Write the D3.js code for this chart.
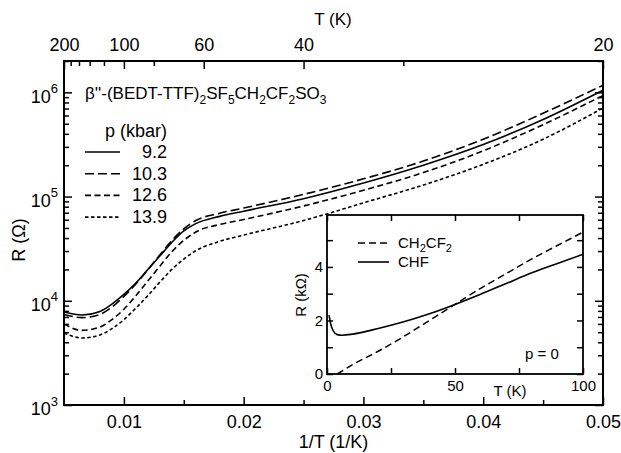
<!DOCTYPE html>
<html>
<head>
<meta charset="utf-8">
<script src="https://cdn.jsdelivr.net/npm/d3@7"></script>
<style>
body { margin: 0; background: #fff; }
text { font-family: "Liberation Sans", Arial, sans-serif; fill: #000; }
</style>
</head>
<body>
<div id="chart"></div>
<script>
var width = 621;
var height = 453;
var margin = {top: 61, left: 64, right: 18, bottom: 48};

// main panel: R vs 1/T
var invT = [0.005, 0.0065, 0.008, 0.009, 0.010, 0.011, 0.012, 0.013, 0.014, 0.015,
            0.016, 0.018, 0.020, 0.025, 0.030, 0.035, 0.040, 0.045, 0.050];
var r92  = [7800, 7300, 7900, 9300, 11500, 14800, 20000, 26900, 36300, 46800,
            55000, 64600, 72400, 95500, 135000, 200000, 316000, 550000, 1050000];
var r103 = [7400, 6900, 7400, 8700, 11000, 14500, 19800, 27500, 37800, 49000,
            58900, 69200, 77600, 105000, 148000, 219000, 355000, 631000, 1170000];
var r126 = [6000, 5200, 5600, 6600, 8300, 11200, 15500, 21500, 29500, 38000,
            45700, 54000, 60300, 81300, 115000, 170000, 275000, 490000, 933000];
var r139 = [4900, 4400, 4700, 5400, 6600, 8500, 11200, 15100, 20000, 25100,
            30200, 37200, 42700, 58900, 87100, 129000, 204000, 355000, 708000];
var pressures = ["9.2", "10.3", "12.6", "13.9"];

var xTicks = [0.01, 0.02, 0.03, 0.04, 0.05];
var xMinor = [0.015, 0.025, 0.035, 0.045];
var topLabels = [200, 100, 60, 40, 20];
var topMinor = [180, 160, 140, 120, 80, 30];
var yTicks = [1e3, 1e4, 1e5, 1e6];

// inset: R (kOhm) vs T
var tChf = [0.8, 1.5, 2.5, 4, 6, 10, 20, 30, 40, 50, 60, 70, 80, 90, 100];
var rChf = [2.2, 1.85, 1.6, 1.47, 1.45, 1.49, 1.7, 1.95, 2.25, 2.6, 2.98, 3.38, 3.78, 4.13, 4.47];
var tCh2 = [4, 10, 20, 30, 40, 50, 60, 70, 80, 90, 100];
var rCh2 = [0, 0.35, 0.85, 1.4, 2.0, 2.6, 3.2, 3.75, 4.3, 4.8, 5.3];
var insetXTicks = [0, 50, 100];
var insetXMinor = [25, 75];
var insetYTicks = [0, 2, 4];
var insetYMinor = [1, 3, 5];

var svg = d3.select("#chart").append("svg")
  .attr("width", width)
  .attr("height", height);

var xScale = d3.scaleLinear()
  .domain([0.005, 0.05])
  .range([margin.left, width - margin.right]);
var yScale = d3.scaleLog()
  .domain([1e3, 2e6])
  .range([height - margin.bottom, margin.top]);

var x0 = margin.left, x1 = width - margin.right;
var y0 = height - margin.bottom, y1 = margin.top;

function inward(sel) {
  sel.select(".domain").remove();
  sel.selectAll("line").attr("stroke", "#000").attr("stroke-width", 1.5);
  sel.selectAll("text").attr("fill", "#000").style("font-family", null);
}

// bottom axis
svg.append("g")
  .attr("transform", `translate(0,${y0})`)
  .call(d3.axisBottom(xScale).tickValues(xTicks).tickFormat(d3.format(".2f"))
    .tickSize(-8).tickPadding(10))
  .call(inward)
  .selectAll("text").attr("font-size", 18);
svg.append("g")
  .attr("transform", `translate(0,${y0})`)
  .call(d3.axisBottom(xScale).tickValues(xMinor).tickFormat("").tickSize(-5))
  .call(inward);

// top axis in T
svg.append("g")
  .attr("transform", `translate(0,${y1})`)
  .call(d3.axisTop(xScale).tickValues(topLabels.map(function(t){ return 1 / t; }))
    .tickFormat(function(d){ return Math.round(1 / d); })
    .tickSize(-8).tickPadding(10))
  .call(inward)
  .selectAll("text").attr("font-size", 18);
svg.append("g")
  .attr("transform", `translate(0,${y1})`)
  .call(d3.axisTop(xScale).tickValues(topMinor.map(function(t){ return 1 / t; }))
    .tickFormat("").tickSize(-5))
  .call(inward);

// log minor ticks
var yMinor = [];
for (var e = 3; e <= 6; e++) {
  for (var m = 2; m <= 9; m++) {
    if (m * Math.pow(10, e) <= 2e6) yMinor.push(m * Math.pow(10, e));
  }
}

var yLeft = svg.append("g")
  .attr("transform", `translate(${x0},0)`)
  .call(d3.axisLeft(yScale).tickValues(yTicks).tickFormat("")
    .tickSize(-8).tickPadding(6))
  .call(inward);
yLeft.selectAll(".tick text")
  .attr("font-size", 18)
  .attr("dy", "0.55em")
  .each(function(d) {
    var t = d3.select(this);
    t.append("tspan").text("10");
    t.append("tspan").attr("font-size", 13).attr("dy", "-0.75em")
      .text(Math.round(Math.log10(d)));
  });
svg.append("g")
  .attr("transform", `translate(${x0},0)`)
  .call(d3.axisLeft(yScale).tickValues(yMinor).tickFormat("").tickSize(-5))
  .call(inward);
svg.append("g")
  .attr("transform", `translate(${x1},0)`)
  .call(d3.axisRight(yScale).tickValues(yTicks).tickFormat("").tickSize(-8))
  .call(inward);
svg.append("g")
  .attr("transform", `translate(${x1},0)`)
  .call(d3.axisRight(yScale).tickValues(yMinor).tickFormat("").tickSize(-5))
  .call(inward);

// frame
svg.append("rect")
  .attr("x", x0).attr("y", y1)
  .attr("width", x1 - x0).attr("height", y0 - y1)
  .attr("fill", "none").attr("stroke", "#000").attr("stroke-width", 2);

// curves
var series = [r92, r103, r126, r139];
var dashes = [null, "9,4", "6,3.5", "3.5,2.5"];
var line = d3.line()
  .x(function(d){ return xScale(d[0]); })
  .y(function(d){ return yScale(d[1]); })
  .curve(d3.curveMonotoneX);

series.forEach(function(r, i) {
  svg.append("path")
    .datum(invT.map(function(v, j){ return [v, r[j]]; }))
    .attr("d", line)
    .attr("fill", "none")
    .attr("stroke", "#000")
    .attr("stroke-width", 1.6)
    .attr("stroke-dasharray", dashes[i]);
});

// axis titles
svg.append("text")
  .attr("x", (x0 + x1) / 2).attr("y", 448)
  .attr("text-anchor", "middle").attr("font-size", 18)
  .text("1/T (1/K)");
svg.append("text")
  .attr("x", 333).attr("y", 25)
  .attr("text-anchor", "middle").attr("font-size", 17)
  .text("T (K)");
svg.append("text")
  .attr("transform", "rotate(-90)")
  .attr("x", -240).attr("y", 25)
  .attr("text-anchor", "middle").attr("font-size", 18)
  .text("R (\u03A9)");

// compound title
var title = svg.append("text")
  .attr("x", 85).attr("y", 99).attr("font-size", 17);
var parts = [["\u03B2''-(BEDT-TTF)", 0], ["2", 1], ["SF", 0], ["5", 1], ["CH", 0], ["2", 1],
             ["CF", 0], ["2", 1], ["SO", 0], ["3", 1]];
parts.forEach(function(p, i) {
  var prev = i > 0 ? parts[i - 1][1] : 0;
  var dy = p[1] && !prev ? 5 : (!p[1] && prev ? -5 : 0);
  title.append("tspan").attr("dy", dy)
    .attr("font-size", p[1] ? 12 : 17).text(p[0]);
});

// legend
svg.append("text")
  .attr("x", 167).attr("y", 137)
  .attr("text-anchor", "end").attr("font-size", 18)
  .text("p (kbar)");
pressures.forEach(function(p, i) {
  var ly = 152 + i * 21.7;
  svg.append("line")
    .attr("x1", 85).attr("x2", 120).attr("y1", ly).attr("y2", ly)
    .attr("stroke", "#000").attr("stroke-width", 1.6)
    .attr("stroke-dasharray", dashes[i]);
  svg.append("text")
    .attr("x", 167).attr("y", ly + 6)
    .attr("text-anchor", "end").attr("font-size", 18)
    .text(p);
});

// ---- inset ----
var ix0 = 327, ix1 = 583, iy0 = 374, iy1 = 215;
var ixScale = d3.scaleLinear().domain([0, 100]).range([ix0, ix1]);
var iyScale = d3.scaleLinear().domain([0, 5.94]).range([iy0, iy1]);

svg.append("rect")
  .attr("x", ix0).attr("y", iy1)
  .attr("width", ix1 - ix0).attr("height", iy0 - iy1)
  .attr("fill", "#fff");

var inset = svg.append("g").attr("font-size", 15);
inset.append("g")
  .attr("transform", `translate(0,${iy0})`)
  .call(d3.axisBottom(ixScale).tickValues(insetXTicks).tickFormat(d3.format("d"))
    .tickSize(-6).tickPadding(6))
  .call(inward)
  .selectAll("text").attr("font-size", 15);
inset.append("g")
  .attr("transform", `translate(0,${iy0})`)
  .call(d3.axisBottom(ixScale).tickValues(insetXMinor).tickFormat("").tickSize(-6))
  .call(inward);
inset.append("g")
  .attr("transform", `translate(0,${iy1})`)
  .call(d3.axisTop(ixScale).tickValues(insetXTicks.concat(insetXMinor)).tickFormat("").tickSize(-6))
  .call(inward);
inset.append("g")
  .attr("transform", `translate(${ix0},0)`)
  .call(d3.axisLeft(iyScale).tickValues(insetYTicks).tickFormat(d3.format("d"))
    .tickSize(-6).tickPadding(4))
  .call(inward)
  .selectAll("text").attr("font-size", 15);
inset.append("g")
  .attr("transform", `translate(${ix0},0)`)
  .call(d3.axisLeft(iyScale).tickValues(insetYMinor).tickFormat("").tickSize(-6))
  .call(inward);
inset.append("g")
  .attr("transform", `translate(${ix1},0)`)
  .call(d3.axisRight(iyScale).tickValues(insetYTicks.concat(insetYMinor)).tickFormat("").tickSize(-6))
  .call(inward);

inset.append("rect")
  .attr("x", ix0).attr("y", iy1)
  .attr("width", ix1 - ix0).attr("height", iy0 - iy1)
  .attr("fill", "none").attr("stroke", "#000").attr("stroke-width", 1.8);

var iline = d3.line()
  .x(function(d){ return ixScale(d[0]); })
  .y(function(d){ return iyScale(d[1]); })
  .curve(d3.curveMonotoneX);

inset.append("path")
  .datum(tCh2.map(function(t, j){ return [t, rCh2[j]]; }))
  .attr("d", iline)
  .attr("fill", "none").attr("stroke", "#000").attr("stroke-width", 1.5)
  .attr("stroke-dasharray", "7,4");
inset.append("path")
  .datum(tChf.map(function(t, j){ return [t, rChf[j]]; }))
  .attr("d", iline)
  .attr("fill", "none").attr("stroke", "#000").attr("stroke-width", 1.6);

// inset legend
inset.append("line")
  .attr("x1", 358).attr("x2", 389).attr("y1", 243).attr("y2", 243)
  .attr("stroke", "#000").attr("stroke-width", 1.5).attr("stroke-dasharray", "7,4");
var lab = inset.append("text").attr("x", 398).attr("y", 248).attr("font-size", 15);
[["CH", 0], ["2", 1], ["CF", 0], ["2", 1]].forEach(function(p, i, a) {
  var prev = i > 0 ? a[i - 1][1] : 0;
  var dy = p[1] && !prev ? 4 : (!p[1] && prev ? -4 : 0);
  lab.append("tspan").attr("dy", dy).attr("font-size", p[1] ? 11 : 15).text(p[0]);
});
inset.append("line")
  .attr("x1", 358).attr("x2", 389).attr("y1", 262).attr("y2", 262)
  .attr("stroke", "#000").attr("stroke-width", 1.6);
inset.append("text").attr("x", 398).attr("y", 267).attr("font-size", 15).text("CHF");
inset.append("text").attr("x", 525).attr("y", 359).attr("font-size", 15).text("p = 0");

inset.append("text")
  .attr("x", 510).attr("y", 396)
  .attr("text-anchor", "middle").attr("font-size", 15)
  .text("T (K)");
inset.append("text")
  .attr("transform", "rotate(-90)")
  .attr("x", -295).attr("y", 306)
  .attr("text-anchor", "middle").attr("font-size", 15)
  .text("R (k\u03A9)");
</script>
</body>
</html>
